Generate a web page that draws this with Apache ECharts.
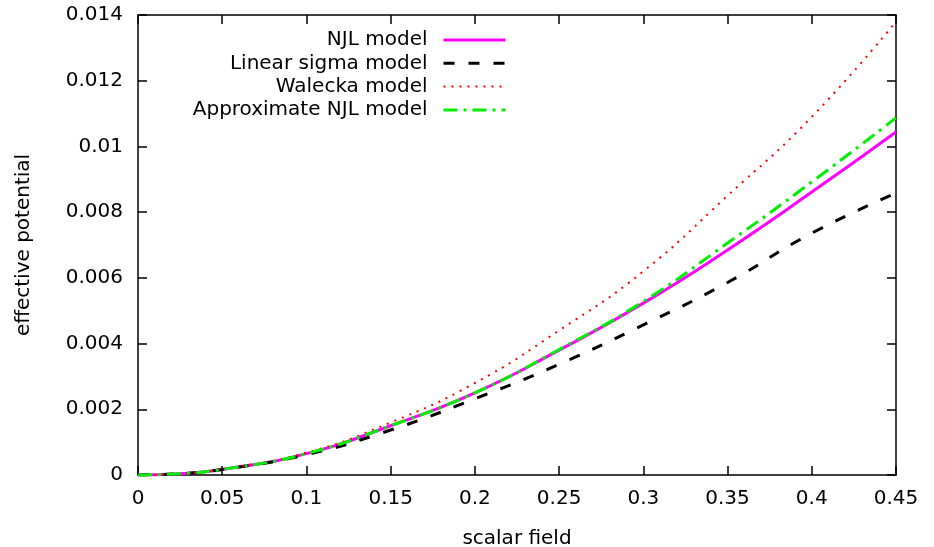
<!DOCTYPE html>
<html>
<head>
<meta charset="utf-8">
<title>effective potential</title>
<script src="https://cdn.jsdelivr.net/npm/echarts@6/dist/echarts.min.js"></script>
<style>
  html, body { margin: 0; padding: 0; background: #fff; }
  #chart { width: 934px; height: 547px; }
</style>
</head>
<body>
<div id="chart"></div>
<script>
// scalar field values
var xs = [0, 0.025, 0.05, 0.1, 0.15, 0.2, 0.25, 0.3, 0.35, 0.4, 0.45];
// effective potential
var njl = [0, 0.00004, 0.00017, 0.00065, 0.0015, 0.0025, 0.0038, 0.00523, 0.00685, 0.00861, 0.01044];
var sigma = [0, 0.00004, 0.00017, 0.00062, 0.00137, 0.00232, 0.00337, 0.00457, 0.00586, 0.00736, 0.00858];
var walecka = [0, 0.00004, 0.00018, 0.00068, 0.0016, 0.0028, 0.0044, 0.0062, 0.0085, 0.0109, 0.0138];
var approx = [0, 0.00004, 0.00017, 0.00065, 0.0015, 0.0025, 0.00382, 0.00528, 0.00706, 0.00892, 0.01087];
var names = ["NJL model", "Linear sigma model", "Walecka model", "Approximate NJL model"];
var widths = [3, 3, 2, 3];
var yTicks = [0, 0.002, 0.004, 0.006, 0.008, 0.01, 0.012, 0.014];

function pairs(ys) {
  return xs.map(function (x, i) { return [x, ys[i]]; });
}

var font = "DejaVu Sans";
var myChart = echarts.init(document.getElementById("chart"));

// gnuplot style frame: ticks inside on all four sides
function frameAxis(extra) {
  return Object.assign({
    type: "value",
    axisLine: { show: true, onZero: false, lineStyle: { color: "#000", width: 1.5 } },
    axisTick: { show: true, inside: true, length: 9, lineStyle: { color: "#000", width: 1.5 } },
    splitLine: { show: false },
  }, extra);
}

function line(name, ys, color, width, type) {
  return {
    type: "line",
    name: name,
    data: pairs(ys),
    smooth: true,
    symbol: "none",
    lineStyle: { color: color, width: width, type: type, cap: "butt" },
    itemStyle: { color: color },
  };
}

myChart.setOption({
  animation: false,
  textStyle: { fontFamily: font },
  grid: { left: 138, right: 38, top: 15, bottom: 72, outerBoundsMode: "none", containLabel: false },
  legend: {
    orient: "vertical",
    align: "right",
    right: 422,
    top: 25,
    itemWidth: 62,
    itemHeight: 10,
    itemGap: 3.3,
    itemStyle: { opacity: 0 },
    textStyle: { fontFamily: font, fontSize: 20, color: "#000", padding: [0, 11, 0, 0] },
    data: names.map(function (n, i) {
      return { name: n, lineStyle: { width: widths[i] } };
    }),
  },
  xAxis: [
    frameAxis({
      min: 0, max: 0.45, interval: 0.05,
      name: "scalar field",
      nameLocation: "middle",
      nameGap: 54,
      nameTextStyle: { fontFamily: font, fontSize: 20, color: "#000" },
      axisLabel: { color: "#000", fontSize: 20, margin: 14, fontFamily: font },
    }),
    frameAxis({
      position: "top", min: 0, max: 0.45, interval: 0.05,
      axisLabel: { show: false },
    }),
  ],
  yAxis: [
    frameAxis({
      min: 0, max: 0.014, interval: 0.002,
      name: "effective potential",
      nameLocation: "middle",
      nameGap: 104,
      nameTextStyle: { fontFamily: font, fontSize: 20, color: "#000" },
      axisLabel: {
        color: "#000", fontSize: 20, margin: 15, fontFamily: font,
        formatter: function (v) { return yTicks.indexOf(v) >= 0 ? String(v) : ""; },
      },
    }),
    frameAxis({
      position: "right", min: 0, max: 0.014, interval: 0.002,
      axisLabel: { show: false },
    }),
  ],
  series: [
    line(names[0], njl, "#ff00ff", widths[0], "solid"),
    line(names[1], sigma, "#000000", widths[1], [11, 14]),
    line(names[2], walecka, "#ff0000", widths[2], [2, 6]),
    line(names[3], approx, "#00ee00", widths[3], [14, 6, 3, 6]),
  ],
});
</script>
</body>
</html>
